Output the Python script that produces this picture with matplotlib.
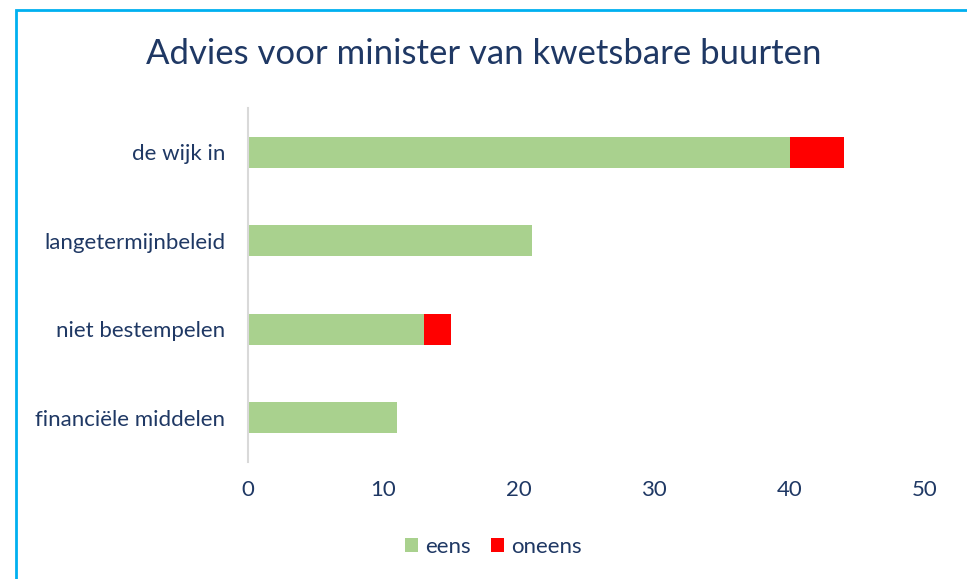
import matplotlib.pyplot as plt
from matplotlib.patches import Rectangle

# data
categories = ["de wijk in", "langetermijnbeleid", "niet bestempelen", "financiële middelen"]
eens = [40, 21, 13, 11]
oneens = [4, 0, 2, 0]

navy = "#1f3864"
plt.rcParams["font.family"] = ["Lato", "DejaVu Sans"]

fig = plt.figure(figsize=(9.67, 5.79), dpi=100)
ax = fig.add_axes([0.2565, 0.2021, 0.7001, 0.6114])

y = range(len(categories))
ax.barh(y, eens, height=0.35, color="#a9d18e", label="eens")
ax.barh(y, oneens, left=eens, height=0.35, color="#ff0000", label="oneens")

ax.set_ylim(3.5, -0.5)
ax.set_xlim(0, 50)
ax.set_xticks([0, 10, 20, 30, 40, 50])
ax.set_yticks(list(y))
ax.set_yticklabels(categories)
ax.tick_params(axis="both", length=0, labelsize=16, labelcolor=navy)
ax.tick_params(axis="x", pad=13)
ax.tick_params(axis="y", pad=16.5)
for s in ["top", "right", "bottom"]:
    ax.spines[s].set_visible(False)
ax.spines["left"].set_color("#d9d9d9")
ax.spines["left"].set_linewidth(1.5)

fig.text(0.5, 0.906, "Advies voor minister van kwetsbare buurten", ha="center", va="center",
         fontsize=25, color=navy)

h, l = ax.get_legend_handles_labels()
fig.legend(h, l, loc="center", bbox_to_anchor=(0.51, 0.055), ncol=2, frameon=False,
           fontsize=16, labelcolor=navy, handlelength=0.6, handleheight=0.6,
           handletextpad=0.3, columnspacing=0.9)

# chart area border (only left and top visible in the crop)
fig.patches.append(Rectangle((16 / 967, -0.1), 1.2, 1 - 10 / 579 + 0.1, transform=fig.transFigure,
                             fill=False, edgecolor="#00b0f0", linewidth=2, clip_on=False))

fig.savefig("out.png", dpi=100)
